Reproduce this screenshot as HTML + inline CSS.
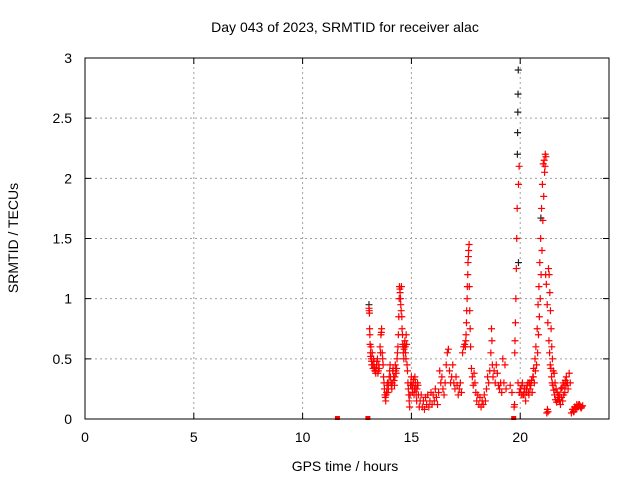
<!DOCTYPE html>
<html><head><meta charset="utf-8"><style>
body{margin:0;background:#fff;}
svg{display:block;font-family:"Liberation Sans",sans-serif;}
</style></head><body>
<svg id="chart" width="640" height="480" viewBox="0 0 640 480">
<rect width="640" height="480" fill="#fff"/>
<text x="345" y="32" font-size="14" text-anchor="middle">Day 043 of 2023, SRMTID for receiver alac</text>
<text transform="translate(18,238) rotate(-90)" font-size="14" text-anchor="middle">SRMTID / TECUs</text>
<text x="345" y="471" font-size="14" text-anchor="middle">GPS time / hours</text>
<g id="grid"></g>
<g id="blackpts"></g>
<g id="redpts"></g>
<rect x="85" y="58" width="524" height="361" fill="none" stroke="#000" stroke-width="1"/>
<g id="ticks"></g>
</svg>
<script>
const xTicks=[0,5,10,15,20];
const yTicks=[0,0.5,1,1.5,2,2.5,3];
const yTickLabels=["0","0.5","1","1.5","2","2.5","3"];
const redTimes=[11.6,13.0,13.06,13.07,13.08,13.1,13.12,13.14,13.16,13.18,13.2,13.24,13.28,13.32,13.36,13.4,13.44,13.48,13.52,13.56,13.6,13.63,13.66,13.7,13.74,13.78,13.82,13.86,13.9,13.94,13.98,14.02,14.06,14.1,14.14,14.18,14.22,14.26,14.3,14.34,14.38,14.42,14.45,14.48,14.51,14.54,14.57,14.6,14.63,14.66,14.7,14.73,14.76,14.8,14.84,14.88,14.92,14.96,15.0,15.04,15.08,15.12,15.16,15.2,15.24,15.28,15.32,15.36,15.4,15.45,15.5,15.55,15.6,15.65,15.7,15.75,15.8,15.85,15.9,15.95,16.0,16.05,16.1,16.15,16.2,16.25,16.3,16.35,16.4,16.45,16.5,16.55,16.6,16.65,16.7,16.75,16.8,16.85,16.9,16.95,17.0,17.05,17.1,17.15,17.2,17.25,17.3,17.35,17.4,17.45,17.5,17.53,17.56,17.59,17.62,17.65,17.68,17.72,17.76,17.8,17.84,17.88,17.92,17.96,18.0,18.05,18.1,18.15,18.2,18.25,18.3,18.35,18.4,18.45,18.5,18.55,18.6,18.65,18.68,18.7,18.72,18.75,18.8,18.85,18.9,18.95,19.0,19.05,19.1,19.15,19.2,19.25,19.3,19.35,19.54,19.62,19.7,19.72,19.74,19.75,19.76,19.78,19.8,19.82,19.84,19.86,19.92,19.95,20.0,20.05,20.1,20.15,20.2,20.25,20.3,20.35,20.4,20.45,20.5,20.55,20.6,20.65,20.7,20.75,20.8,20.84,20.88,20.92,20.96,21.0,21.04,21.08,21.12,21.15,21.18,21.22,21.25,21.28,21.3,21.33,21.36,21.39,21.42,21.45,21.48,21.52,21.56,21.6,21.65,21.7,21.75,21.8,21.85,21.9,21.95,22.0,22.05,22.1,22.15,22.2,22.25,22.3,22.35,22.4,22.45,22.5,22.55,22.6,22.65,22.7,22.75,22.8,22.85,22.9,22.95,23.0,23.05];
const redValues=[0,0,0.9,0.88,0.75,0.62,0.55,0.6,0.5,0.45,0.55,0.42,0.48,0.4,0.38,0.45,0.5,0.4,0.42,0.6,0.7,0.75,0.55,0.45,0.3,0.2,0.15,0.22,0.3,0.25,0.35,0.45,0.3,0.25,0.4,0.35,0.28,0.45,0.38,0.5,0.6,0.85,1.1,1.05,0.95,1.1,0.75,0.62,0.55,0.58,0.65,0.55,0.7,0.45,0.3,0.2,0.1,0.28,0.35,0.22,0.3,0.2,0.35,0.25,0.15,0.3,0.2,0.1,0.15,0.2,0.1,0.15,0.08,0.18,0.12,0.2,0.1,0.15,0.22,0.12,0.2,0.15,0.25,0.18,0.12,0.22,0.4,0.3,0.35,0.25,0.2,0.3,0.45,0.55,0.58,0.4,0.3,0.35,0.45,0.3,0.25,0.35,0.28,0.2,0.25,0.3,0.22,0.55,0.6,0.62,0.65,0.8,1.0,1.2,1.35,1.45,0.9,0.6,0.42,0.35,0.28,0.38,0.3,0.22,0.15,0.2,0.12,0.18,0.1,0.15,0.12,0.2,0.15,0.25,0.35,0.3,0.4,0.55,0.75,0.65,0.45,0.35,0.4,0.3,0.45,0.38,0.28,0.25,0.3,0.22,0.5,0.3,0.45,0.25,0.28,0.22,0,0.1,0.12,0.55,0.65,0.8,1.0,1.25,1.5,1.75,1.95,2.1,0.25,0.2,0.3,0.2,0.25,0.15,0.22,0.3,0.2,0.25,0.3,0.22,0.35,0.3,0.4,0.45,0.55,0.7,0.85,1.0,1.2,1.4,1.65,1.85,2.05,2.2,2.18,0.05,0.08,0.06,1.25,1.2,1.05,0.9,0.75,0.6,0.5,0.4,0.38,0.3,0.25,0.22,0.2,0.15,0.12,0.18,0.15,0.2,0.22,0.28,0.3,0.25,0.38,0.3,0.05,0.08,0.06,0.1,0.08,0.12,0.1,0.12,0.11,0.09];
const extraTimes=[13.05,13.09,13.13,13.17,13.22,13.26,13.3,13.34,13.38,13.42,13.46,13.5,13.58,13.62,13.68,13.72,13.76,13.8,13.84,13.88,13.92,13.96,14.0,14.04,14.08,14.12,14.16,14.2,14.24,14.28,14.32,14.36,14.4,14.44,14.47,14.5,14.53,14.56,14.59,14.62,14.65,14.68,14.72,14.75,14.78,14.82,14.86,14.9,14.94,14.98,15.02,15.06,15.1,15.14,15.18,15.22,15.26,15.3,17.48,17.51,17.54,17.57,17.6,17.63,17.66,17.7,19.9,19.96,20.02,20.08,20.12,20.18,20.22,20.28,20.32,20.38,20.42,20.48,20.52,20.58,20.62,20.68,20.72,20.78,20.82,20.86,20.9,20.94,20.98,21.02,21.06,21.1,21.14,21.17,21.2,21.24,21.27,21.32,21.35,21.38,21.41,21.44,21.47,21.5,21.54,21.58,21.62,21.67,21.72,21.77,21.82,21.87,21.92,21.97,22.02,22.07,22.12,22.17,22.42,22.47,22.52,22.57,22.62,22.67,22.72,22.77,22.82,22.87];
const extraValues=[0.92,0.7,0.52,0.48,0.45,0.5,0.43,0.4,0.42,0.48,0.38,0.45,0.55,0.72,0.5,0.35,0.25,0.18,0.2,0.28,0.22,0.3,0.4,0.35,0.28,0.3,0.42,0.32,0.35,0.4,0.42,0.55,0.7,1.0,1.08,1.0,0.9,0.85,0.7,0.6,0.5,0.62,0.6,0.5,0.62,0.4,0.25,0.15,0.2,0.3,0.28,0.25,0.33,0.25,0.3,0.2,0.25,0.28,0.6,0.7,0.9,1.1,1.3,1.4,1.1,0.75,0.3,0.22,0.25,0.28,0.2,0.25,0.2,0.25,0.28,0.22,0.3,0.28,0.32,0.35,0.42,0.5,0.6,0.75,0.95,1.1,1.3,1.5,1.75,1.95,2.12,2.15,2.1,1.2,1.12,0.95,0.8,0.65,0.55,0.45,0.42,0.35,0.3,0.28,0.24,0.2,0.16,0.14,0.16,0.18,0.2,0.25,0.26,0.3,0.28,0.32,0.35,0.3,0.08,0.06,0.1,0.09,0.1,0.11,0.12,0.1,0.1,0.11];
const blackTimes=[13.05,19.87,19.88,19.89,19.9,19.91,19.92,20.95];
const blackValues=[0.95,2.2,2.38,2.55,2.7,2.9,1.3,1.67];
const X0=85,X1=609,Y0=419,Y1=58,XMAX=24.08,YMAX=3;
const sx=v=>X0+v/XMAX*(X1-X0);
const sy=v=>Y0-v/YMAX*(Y0-Y1);
const NS="http://www.w3.org/2000/svg";
const grid=document.getElementById('grid'),ticks=document.getElementById('ticks');
function mk(tag,attrs,parent){const e=document.createElementNS(NS,tag);for(const k in attrs)e.setAttribute(k,attrs[k]);parent.appendChild(e);return e;}
xTicks.forEach(t=>{
  const x=sx(t);
  if(t>0){const g=mk('line',{x1:x,x2:x,y1:Y0,y2:Y1,stroke:'#a0a0a0','stroke-dasharray':'2,3'},grid);
  
  }
  const tk=mk('path',{d:`M${x},${Y0}v-6M${x},${Y1}v6`,stroke:'#000'},ticks);
  
  
  const lb=mk('text',{x:x,y:Y0+23,'font-size':14,'text-anchor':'middle'},ticks);lb.textContent=String(t);
  
  
});
yTicks.forEach((t,i)=>{
  const y=sy(t);
  if(t>0&&t<3){const g=mk('line',{x1:X0,x2:X1,y1:y,y2:y,stroke:'#a0a0a0','stroke-dasharray':'2,3'},grid);
  
  }
  const tk=mk('path',{d:`M${X0},${y}h6M${X1},${y}h-6`,stroke:'#000'},ticks);
  
  
  const lb=mk('text',{x:X0-13,y:y+5,'font-size':14,'text-anchor':'end'},ticks);lb.textContent=yTickLabels[i];
  
  
});
function plus(t,v,color,parent){
  const x=sx(t),y=sy(v);
  const p=mk('path',{d:`M${x-3.5},${y}h7M${x},${y-3.5}v7`,stroke:color,'stroke-width':1.2},parent);
  
  
}
const bg=document.getElementById('blackpts'),rg=document.getElementById('redpts');
blackTimes.forEach((t,i)=>plus(t,blackValues[i],'#222',bg));
redTimes.forEach((t,i)=>{
  if(redValues[i]===0){const r=mk('rect',{x:sx(t)-2.5,y:Y0-3,width:5,height:4,fill:'#f00'},rg);
    
    }
  else plus(t,redValues[i],'#f00',rg);
});
extraTimes.forEach((t,i)=>plus(t,extraValues[i],'#f00',rg));
</script>
</body></html>
